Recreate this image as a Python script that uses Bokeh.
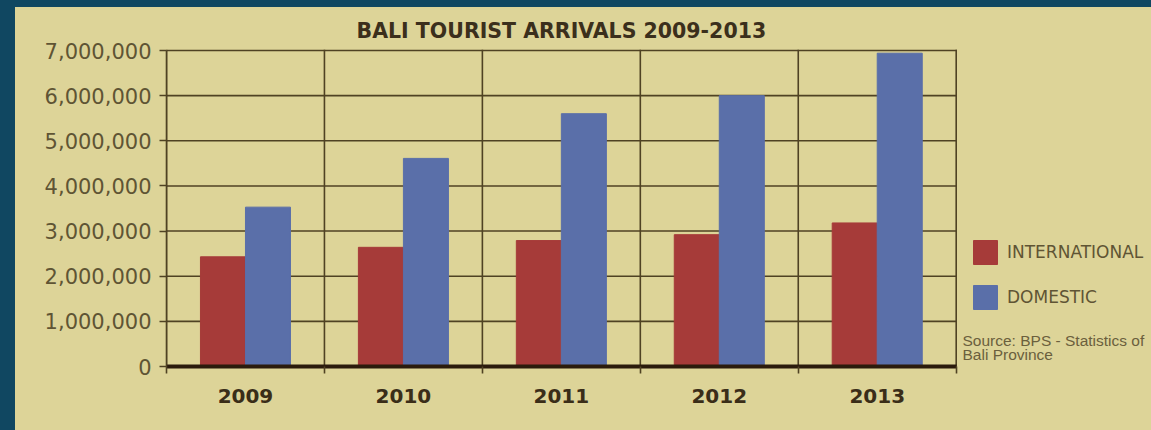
import numpy as np
from bokeh.plotting import figure
from bokeh.models import (FixedTicker, NumeralTickFormatter, Range1d, Label,
                          Legend, LegendItem, ColumnDataSource)
from bokeh.layouts import column
from bokeh.embed import file_html
from bokeh.resources import INLINE

# ---- data ----
years = ["2009", "2010", "2011", "2012", "2013"]
international = [2430000, 2640000, 2790000, 2920000, 3180000]
domestic = [3530000, 4610000, 5600000, 6000000, 6940000]
y_ticks = [0, 1000000, 2000000, 3000000, 4000000, 5000000, 6000000, 7000000]
series_names = ["INTERNATIONAL", "DOMESTIC"]
title_text = "BALI TOURIST ARRIVALS 2009-2013"
source_lines = ["Source: BPS - Statistics of", "Bali Province"]

# ---- styles ----
BEIGE = "#ddd498"
NAVY = "#104761"
RED = "#a63b39"
BLUE = "#5a6fa9"
GRID = "#4f4223"
DARK = "#3a2d18"
LABEL = "#5f5434"

n = len(years)
y_max = y_ticks[-1]

# pixel geometry of the plot area inside the window (layout only)
PX_LEFT, PX_RIGHT, PX_TOP, PX_ZERO = 166.0, 955.7, 50.0, 366.0
WIN_W, WIN_TOP = 1151.0, 7.0
x_per_px = n / (PX_RIGHT - PX_LEFT)
y_per_px = y_max / (PX_ZERO - PX_TOP)


def wx(px):
    return (px - PX_LEFT) * x_per_px


def wy(py):
    return (PX_ZERO - py) * y_per_px


idx = np.arange(n)
bar_w = 0.285
src = ColumnDataSource(dict(
    x_int=idx + 0.5 - bar_w / 2,
    x_dom=idx + 0.5 + bar_w / 2,
    intl=international,
    dom=domestic,
))

p = figure(width=1136, height=423,
           x_range=Range1d(0, wx(WIN_W)), y_range=Range1d(0, wy(WIN_TOP)),
           output_backend="svg", toolbar_location=None,
           min_border_left=151, min_border_right=0,
           min_border_top=0, min_border_bottom=64,
           background_fill_color=BEIGE, border_fill_color=BEIGE,
           outline_line_color=None)

# grid lines limited to the plot area
p.xgrid.visible = False
p.ygrid.visible = False
p.segment(x0=[0] * len(y_ticks), x1=[n] * len(y_ticks), y0=y_ticks, y1=y_ticks,
          line_color=GRID, line_width=1.6, line_cap="square", level="underlay")
p.segment(x0=list(range(n + 1)), x1=list(range(n + 1)),
          y0=[0] * (n + 1), y1=[y_max] * (n + 1),
          line_color=GRID, line_width=1.6, line_cap="square", level="underlay")

r1 = p.vbar(x="x_int", top="intl", bottom=0, width=bar_w, source=src,
            fill_color=RED, line_color=RED)
r2 = p.vbar(x="x_dom", top="dom", bottom=0, width=bar_w, source=src,
            fill_color=BLUE, line_color=BLUE)

# y axis
p.yaxis.bounds = (0, y_max)
p.yaxis.ticker = FixedTicker(ticks=y_ticks)
p.yaxis.formatter = NumeralTickFormatter(format="0,0")
p.yaxis.major_label_text_font = "DejaVu Sans"
p.yaxis.major_label_text_font_size = "21px"
p.yaxis.major_label_text_color = LABEL
p.yaxis.major_tick_out = 7
p.yaxis.major_tick_in = 0
p.yaxis.major_tick_line_color = GRID
p.yaxis.major_tick_line_width = 1.6
p.yaxis.minor_tick_line_color = None
p.yaxis.axis_line_color = GRID
p.yaxis.axis_line_width = 1.6
p.yaxis.major_label_standoff = 8

# x axis
p.xaxis.bounds = (0, n)
p.xaxis.ticker = FixedTicker(ticks=list(idx + 0.5), minor_ticks=list(range(n + 1)))
p.xaxis.major_label_overrides = {float(i + 0.5): y for i, y in enumerate(years)}
p.xaxis.major_tick_line_color = None
p.xaxis.major_tick_out = 0
p.xaxis.major_tick_in = 0
p.xaxis.minor_tick_out = 7
p.xaxis.minor_tick_in = 0
p.xaxis.minor_tick_line_color = GRID
p.xaxis.minor_tick_line_width = 1.6
p.xaxis.axis_line_color = "#2b1b0c"
p.xaxis.axis_line_width = 4
p.xaxis.major_label_text_font = "DejaVu Sans"
p.xaxis.major_label_text_font_style = "bold"
p.xaxis.major_label_text_font_size = "20px"
p.xaxis.major_label_text_color = DARK
p.xaxis.major_label_standoff = 15

# title
p.add_layout(Label(x=n / 2, y=wy(30.5), text=title_text,
                   text_align="center", text_baseline="alphabetic",
                   text_font="DejaVu Sans", text_font_style="bold",
                   text_font_size="20.5px", text_color="#3b2f1c"))

# legend
legend = Legend(items=[LegendItem(label=series_names[0], renderers=[r1]),
                       LegendItem(label=series_names[1], renderers=[r2])],
                location=(804, 54), orientation="vertical",
                glyph_width=30, glyph_height=30, spacing=15,
                padding=0, margin=0, label_standoff=7,
                border_line_color=None, background_fill_alpha=0,
                label_text_font="DejaVu Sans", label_text_font_size="17px",
                label_text_color=LABEL, label_height=30)
p.add_layout(legend)

# source note
for i, line in enumerate(source_lines):
    p.add_layout(Label(x=wx(962), y=wy(340 + 14 * i), text=line,
                       text_align="left", text_baseline="alphabetic",
                       text_font="Liberation Sans", text_font_size="15.5px",
                       text_color="#6b5f3d"))

p.margin = (7, 0, 0, 15)
p.styles = {"background-color": BEIGE}
root = column(p, width=1151, height=430, styles={"background-color": NAVY})

open("out.html", "w").write(file_html(root, INLINE))
